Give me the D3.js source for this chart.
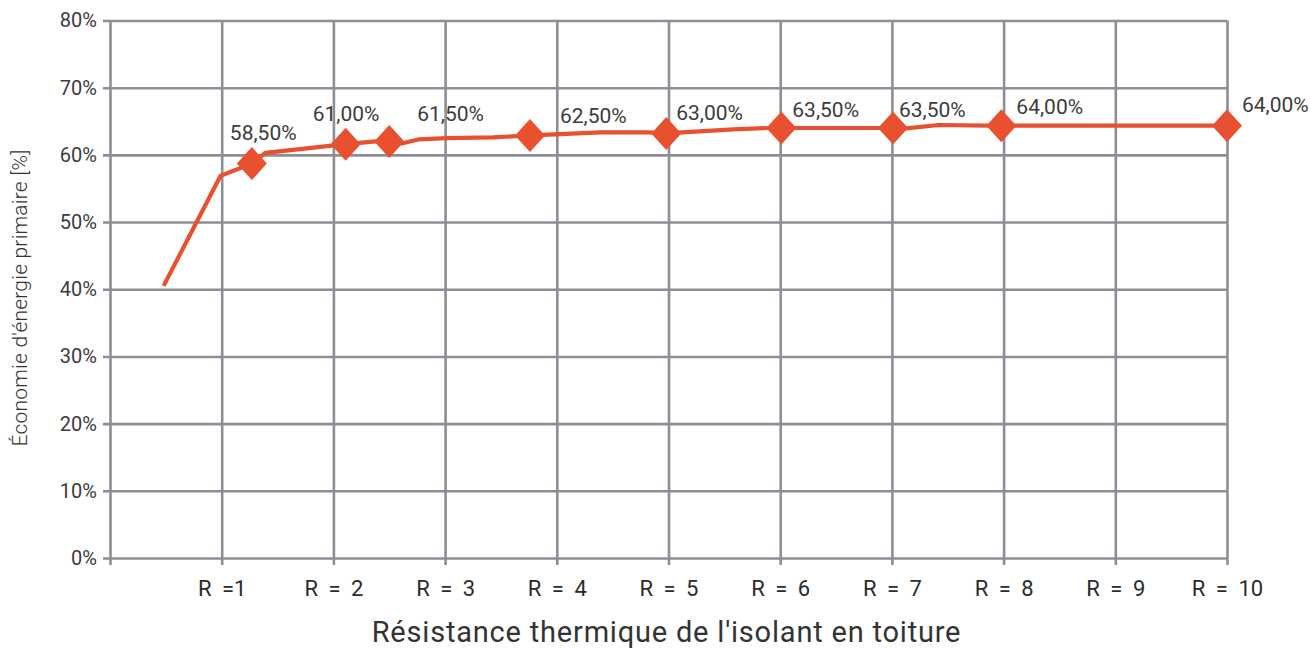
<!DOCTYPE html>
<html>
<head>
<meta charset="utf-8">
<script src="https://cdn.jsdelivr.net/npm/d3@7"></script>
<style>
  html, body { margin: 0; padding: 0; background: #ffffff; }
  svg { display: block; }
</style>
</head>
<body>
<svg id="chart" width="1310" height="651"></svg>
<script>
// ---- data ----
const lineR = [0.48, 0.99, 1.27, 1.39, 2.11, 2.38, 2.50, 2.61, 2.76, 3.01, 3.43, 3.76, 3.98, 4.39, 4.82, 4.98, 5.12, 5.58, 5.89, 6.01, 6.88, 7.01, 7.13, 7.42, 7.86, 7.98, 10];
const lineV = [40.5, 56.9, 58.7, 60.3, 61.6, 62.0, 62.0, 61.7, 62.3, 62.5, 62.6, 62.9, 63.05, 63.35, 63.35, 63.2, 63.35, 63.8, 64.0, 64.0, 64.0, 64.0, 63.95, 64.45, 64.35, 64.35, 64.35];
const markerR = [1.27, 2.11, 2.50, 3.76, 4.98, 6.01, 7.01, 7.98, 10];
const markerV = [58.7, 61.6, 62.0, 62.9, 63.2, 64.0, 64.0, 64.35, 64.35];
const markerLabels = ["58,50%", "61,00%", "61,50%", "62,50%", "63,00%", "63,50%", "63,50%", "64,00%", "64,00%"];
const xTickValues = [0, 1, 2, 3, 4, 5, 6, 7, 8, 9, 10];
const xTickLabels = ["", "R =1", "R = 2", "R = 3", "R = 4", "R = 5", "R = 6", "R = 7", "R = 8", "R = 9", "R = 10"];
const yTickValues = [0, 10, 20, 30, 40, 50, 60, 70, 80];
const yTickLabels = ["0%", "10%", "20%", "30%", "40%", "50%", "60%", "70%", "80%"];
const xTitle = "Résistance thermique de l'isolant en toiture";
const yTitle = "Économie d'énergie primaire [%]";

// ---- layout / style (not data) ----
const labelOffsets = [[-22, -24], [-33, -23], [28, -20], [30, -12.5], [10, -13], [11, -11], [6, -11], [15, -12], [15, -14]];
const pLeft = 110, pRight = 1227, pTop = 20.5, pBottom = 558;
const W = pRight - pLeft, H = pBottom - pTop;
const gridColor = "#8e8f96";
const lineColor = "#e8502f";
const font = "Roboto, 'Open Sans', sans-serif";

const svg = d3.select("#chart");
const x = d3.scaleLinear().domain([0, 10]).range([pLeft, pRight]);
const y = d3.scaleLinear().domain([0, 80]).range([pBottom, pTop]);

// horizontal grid + y labels
const yAxis = svg.append("g")
  .attr("transform", `translate(${pRight},0)`)
  .call(d3.axisLeft(y).tickValues(yTickValues)
    .tickFormat((d, i) => yTickLabels[i])
    .tickSize(W + 7).tickPadding(6));
yAxis.select(".domain").remove();
yAxis.selectAll(".tick line").attr("stroke", gridColor).attr("stroke-width", 2.6);
yAxis.selectAll(".tick text")
  .attr("fill", "#3c3c3c").style("font-family", font).style("font-size", "20px");

// vertical grid + x labels
const xAxis = svg.append("g")
  .attr("transform", `translate(0,${pTop})`)
  .call(d3.axisBottom(x).tickValues(xTickValues)
    .tickFormat((d, i) => xTickLabels[i])
    .tickSize(H + 7).tickPadding(15));
xAxis.select(".domain").remove();
xAxis.selectAll(".tick line").attr("stroke", gridColor).attr("stroke-width", 2.6);
xAxis.selectAll(".tick text")
  .attr("fill", "#2c2c2c").style("font-family", font).style("font-size", "22px")
  .style("word-spacing", "5px");

// line
const pts = lineR.map((r, i) => [r, lineV[i]]);
svg.append("path")
  .datum(pts)
  .attr("fill", "none")
  .attr("stroke", lineColor)
  .attr("stroke-width", 4.2)
  .attr("stroke-linejoin", "round")
  .attr("d", d3.line().x(d => x(d[0])).y(d => y(d[1])));

// markers
const hw = 15, hh = 16.5;
const mk = markerR.map((r, i) => ({ r, v: markerV[i], label: markerLabels[i], off: labelOffsets[i] }));
svg.append("g").selectAll("path")
  .data(mk).join("path")
  .attr("fill", lineColor)
  .attr("d", d => {
    const cx = x(d.r), cy = y(d.v);
    return `M${cx},${cy - hh}L${cx + hw},${cy}L${cx},${cy + hh}L${cx - hw},${cy}Z`;
  });

// data labels
svg.append("g").selectAll("text")
  .data(mk).join("text")
  .attr("x", d => x(d.r) + d.off[0])
  .attr("y", d => y(d.v) + d.off[1])
  .attr("fill", "#3c3c3c")
  .style("font-family", font)
  .style("font-size", "21px")
  .text(d => d.label);

// axis titles
svg.append("text")
  .attr("x", (pLeft + pRight) / 2 - 2)
  .attr("y", 642)
  .attr("text-anchor", "middle")
  .attr("fill", "#333")
  .style("font-family", font)
  .style("font-size", "29px")
  .style("letter-spacing", "0.8px")
  .text(xTitle);

svg.append("text")
  .attr("transform", `translate(27,298) rotate(-90)`)
  .attr("text-anchor", "middle")
  .attr("fill", "#333")
  .style("font-family", font)
  .style("font-weight", 300)
  .style("font-size", "21px")
  .style("letter-spacing", "0.2px")
  .text(yTitle);
</script>
</body>
</html>
